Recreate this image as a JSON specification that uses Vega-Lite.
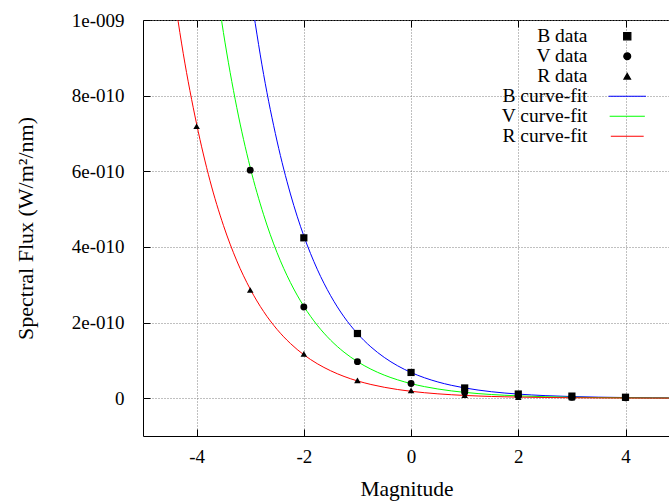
{
  "$schema": "https://vega.github.io/schema/vega-lite/v6.json",
  "width": 527,
  "height": 416,
  "autosize": {"type": "none"},
  "padding": {"left": 143, "top": 20, "right": 0, "bottom": 66},
  "background": "white",
  "config": {
    "view": {"stroke": "black", "strokeWidth": 1},
    "font": "Liberation Serif",
    "axis": {
      "labelFont": "Liberation Serif",
      "titleFont": "Liberation Serif",
      "labelColor": "black",
      "titleColor": "black",
      "titleFontWeight": "normal",
      "tickColor": "black",
      "domain": false,
      "gridColor": "#808080",
      "gridDash": [1, 2],
      "gridWidth": 1
    }
  },
  "datasets": {
    "pts": [
      {"series": "B data", "x": -2, "y": 4.24e-10},
      {"series": "B data", "x": -1, "y": 1.71e-10},
      {"series": "B data", "x": 0, "y": 6.8e-11},
      {"series": "B data", "x": 1, "y": 2.7e-11},
      {"series": "B data", "x": 2, "y": 1.1e-11},
      {"series": "B data", "x": 3, "y": 5.5e-12},
      {"series": "B data", "x": 4, "y": 2.5e-12},
      {"series": "V data", "x": -3, "y": 6.03e-10},
      {"series": "V data", "x": -2, "y": 2.41e-10},
      {"series": "V data", "x": -1, "y": 9.66e-11},
      {"series": "V data", "x": 0, "y": 3.9e-11},
      {"series": "V data", "x": 1, "y": 1.5e-11},
      {"series": "V data", "x": 2, "y": 6.2e-12},
      {"series": "V data", "x": 3, "y": 2.5e-12},
      {"series": "V data", "x": 4, "y": 1e-12},
      {"series": "R data", "x": -4, "y": 7.19e-10},
      {"series": "R data", "x": -3, "y": 2.86e-10},
      {"series": "R data", "x": -2, "y": 1.17e-10},
      {"series": "R data", "x": -1, "y": 4.7e-11},
      {"series": "R data", "x": 0, "y": 2.06e-11},
      {"series": "R data", "x": 1, "y": 8e-12},
      {"series": "R data", "x": 2, "y": 3e-12},
      {"series": "R data", "x": 3, "y": 1.2e-12},
      {"series": "R data", "x": 4, "y": 5e-13}
    ],
    "fit": [
      {"series": "B curve-fit", "x": -3.0, "y": 1.078e-9},
      {"series": "B curve-fit", "x": -2.75, "y": 8.56e-10},
      {"series": "B curve-fit", "x": -2.5, "y": 6.80e-10},
      {"series": "B curve-fit", "x": -2.25, "y": 5.40e-10},
      {"series": "B curve-fit", "x": -2.0, "y": 4.29e-10},
      {"series": "B curve-fit", "x": -1.75, "y": 3.41e-10},
      {"series": "B curve-fit", "x": -1.5, "y": 2.71e-10},
      {"series": "B curve-fit", "x": -1.25, "y": 2.15e-10},
      {"series": "B curve-fit", "x": -1.0, "y": 1.708e-10},
      {"series": "B curve-fit", "x": -0.75, "y": 1.357e-10},
      {"series": "B curve-fit", "x": -0.5, "y": 1.078e-10},
      {"series": "B curve-fit", "x": -0.25, "y": 8.56e-11},
      {"series": "B curve-fit", "x": 0, "y": 6.8e-11},
      {"series": "B curve-fit", "x": 0.25, "y": 5.40e-11},
      {"series": "B curve-fit", "x": 0.5, "y": 4.29e-11},
      {"series": "B curve-fit", "x": 0.75, "y": 3.41e-11},
      {"series": "B curve-fit", "x": 1, "y": 2.71e-11},
      {"series": "B curve-fit", "x": 1.25, "y": 2.15e-11},
      {"series": "B curve-fit", "x": 1.5, "y": 1.708e-11},
      {"series": "B curve-fit", "x": 1.75, "y": 1.357e-11},
      {"series": "B curve-fit", "x": 2, "y": 1.078e-11},
      {"series": "B curve-fit", "x": 2.5, "y": 6.8e-12},
      {"series": "B curve-fit", "x": 3, "y": 4.29e-12},
      {"series": "B curve-fit", "x": 3.5, "y": 2.71e-12},
      {"series": "B curve-fit", "x": 4, "y": 1.71e-12},
      {"series": "B curve-fit", "x": 4.5, "y": 1.08e-12},
      {"series": "B curve-fit", "x": 4.81, "y": 8.1e-13},
      {"series": "V curve-fit", "x": -3.75, "y": 1.217e-9},
      {"series": "V curve-fit", "x": -3.5, "y": 9.67e-10},
      {"series": "V curve-fit", "x": -3.25, "y": 7.68e-10},
      {"series": "V curve-fit", "x": -3.0, "y": 6.10e-10},
      {"series": "V curve-fit", "x": -2.75, "y": 4.85e-10},
      {"series": "V curve-fit", "x": -2.5, "y": 3.85e-10},
      {"series": "V curve-fit", "x": -2.25, "y": 3.058e-10},
      {"series": "V curve-fit", "x": -2.0, "y": 2.429e-10},
      {"series": "V curve-fit", "x": -1.75, "y": 1.930e-10},
      {"series": "V curve-fit", "x": -1.5, "y": 1.533e-10},
      {"series": "V curve-fit", "x": -1.25, "y": 1.217e-10},
      {"series": "V curve-fit", "x": -1.0, "y": 9.67e-11},
      {"series": "V curve-fit", "x": -0.75, "y": 7.68e-11},
      {"series": "V curve-fit", "x": -0.5, "y": 6.10e-11},
      {"series": "V curve-fit", "x": -0.25, "y": 4.85e-11},
      {"series": "V curve-fit", "x": 0, "y": 3.85e-11},
      {"series": "V curve-fit", "x": 0.25, "y": 3.058e-11},
      {"series": "V curve-fit", "x": 0.5, "y": 2.429e-11},
      {"series": "V curve-fit", "x": 0.75, "y": 1.930e-11},
      {"series": "V curve-fit", "x": 1, "y": 1.533e-11},
      {"series": "V curve-fit", "x": 1.25, "y": 1.217e-11},
      {"series": "V curve-fit", "x": 1.5, "y": 9.67e-12},
      {"series": "V curve-fit", "x": 1.75, "y": 7.68e-12},
      {"series": "V curve-fit", "x": 2, "y": 6.10e-12},
      {"series": "V curve-fit", "x": 2.5, "y": 3.85e-12},
      {"series": "V curve-fit", "x": 3, "y": 2.43e-12},
      {"series": "V curve-fit", "x": 3.5, "y": 1.53e-12},
      {"series": "V curve-fit", "x": 4, "y": 9.7e-13},
      {"series": "V curve-fit", "x": 4.5, "y": 6.1e-13},
      {"series": "V curve-fit", "x": 4.81, "y": 4.6e-13},
      {"series": "R curve-fit", "x": -4.5, "y": 1.148e-9},
      {"series": "R curve-fit", "x": -4.25, "y": 9.12e-10},
      {"series": "R curve-fit", "x": -4.0, "y": 7.25e-10},
      {"series": "R curve-fit", "x": -3.75, "y": 5.75e-10},
      {"series": "R curve-fit", "x": -3.5, "y": 4.57e-10},
      {"series": "R curve-fit", "x": -3.25, "y": 3.63e-10},
      {"series": "R curve-fit", "x": -3.0, "y": 2.885e-10},
      {"series": "R curve-fit", "x": -2.75, "y": 2.291e-10},
      {"series": "R curve-fit", "x": -2.5, "y": 1.82e-10},
      {"series": "R curve-fit", "x": -2.25, "y": 1.446e-10},
      {"series": "R curve-fit", "x": -2.0, "y": 1.148e-10},
      {"series": "R curve-fit", "x": -1.75, "y": 9.12e-11},
      {"series": "R curve-fit", "x": -1.5, "y": 7.25e-11},
      {"series": "R curve-fit", "x": -1.25, "y": 5.75e-11},
      {"series": "R curve-fit", "x": -1.0, "y": 4.57e-11},
      {"series": "R curve-fit", "x": -0.75, "y": 3.63e-11},
      {"series": "R curve-fit", "x": -0.5, "y": 2.885e-11},
      {"series": "R curve-fit", "x": -0.25, "y": 2.291e-11},
      {"series": "R curve-fit", "x": 0, "y": 1.82e-11},
      {"series": "R curve-fit", "x": 0.25, "y": 1.446e-11},
      {"series": "R curve-fit", "x": 0.5, "y": 1.148e-11},
      {"series": "R curve-fit", "x": 0.75, "y": 9.12e-12},
      {"series": "R curve-fit", "x": 1, "y": 7.25e-12},
      {"series": "R curve-fit", "x": 1.25, "y": 5.75e-12},
      {"series": "R curve-fit", "x": 1.5, "y": 4.57e-12},
      {"series": "R curve-fit", "x": 1.75, "y": 3.63e-12},
      {"series": "R curve-fit", "x": 2, "y": 2.885e-12},
      {"series": "R curve-fit", "x": 2.5, "y": 1.82e-12},
      {"series": "R curve-fit", "x": 3, "y": 1.148e-12},
      {"series": "R curve-fit", "x": 3.5, "y": 7.25e-13},
      {"series": "R curve-fit", "x": 4, "y": 4.57e-13},
      {"series": "R curve-fit", "x": 4.5, "y": 2.89e-13},
      {"series": "R curve-fit", "x": 4.81, "y": 2.2e-13}
    ]
  },
  "resolve": {"axis": {"x": "independent"}},
  "layer": [
    {
      "data": {"name": "fit"},
      "mark": {"type": "line", "clip": true, "strokeWidth": 1, "interpolate": "monotone"},
      "encoding": {
        "x": {
          "field": "x", "type": "quantitative",
          "scale": {"domain": [-5, 4.83], "nice": false, "zero": false},
          "axis": {"orient": "top", "values": [-4, -2, 0, 2, 4], "labels": false, "grid": false, "tickSize": -7, "title": null}
        },
        "y": {
          "field": "y", "type": "quantitative",
          "scale": {"domain": [-1e-10, 1e-9], "nice": false, "zero": false},
          "axis": {
            "values": [0, 2e-10, 4e-10, 6e-10, 8e-10, 1e-9],
            "labelExpr": "datum.value === 0 ? '0' : format(datum.value / pow(10, floor(log(datum.value)/LN10 + 1e-6)), 'd') + 'e-' + format(-floor(log(datum.value)/LN10 + 1e-6), '03d')",
            "labelFontSize": 19,
            "labelPadding": 26,
            "tickSize": -7,
            "grid": true,
            "title": "Spectral Flux (W/m²/nm)",
            "titleFontSize": 22,
            "titlePadding": 34
          }
        },
        "color": {
          "field": "series", "type": "nominal",
          "scale": {
            "domain": ["B data", "V data", "R data", "B curve-fit", "V curve-fit", "R curve-fit"],
            "range": ["black", "black", "black", "#0000ff", "#00ff00", "#ff0000"]
          },
          "legend": {
            "title": null,
            "orient": "none",
            "legendX": 474.5,
            "legendY": 6.5,
            "padding": 0,
            "rowPadding": -1,
            "labelAlign": "right",
            "labelOffset": -49.5,
            "labelFont": "Liberation Serif",
            "labelFontSize": 19.5,
            "labelColor": "black",
            "labelLimit": 300,
            "symbolStrokeWidth": 1.2,
            "symbolOpacity": 1,
            "encode": {
              "symbols": {
                "update": {
                  "fill": {"signal": "indexof(datum.value, 'data') >= 0 ? 'black' : 'transparent'"},
                  "stroke": {"signal": "indexof(datum.value, 'data') >= 0 ? 'transparent' : scale('color', datum.value)"}
                }
              }
            }
          }
        },
        "order": {"field": "x", "type": "quantitative"}
      }
    },
    {
      "data": {"name": "pts"},
      "mark": {"type": "point", "filled": true, "opacity": 1},
      "encoding": {
        "x": {
          "field": "x", "type": "quantitative",
          "axis": {
            "orient": "bottom",
            "values": [-4, -2, 0, 2, 4],
            "labelExpr": "'' + datum.value",
            "labelFontSize": 19,
            "labelPadding": 18,
            "tickSize": -7,
            "grid": true,
            "title": "Magnitude",
            "titleFontSize": 21.5,
            "titlePadding": 12
          }
        },
        "y": {"field": "y", "type": "quantitative"},
        "color": {"field": "series", "type": "nominal"},
        "shape": {
          "field": "series", "type": "nominal",
          "scale": {
            "domain": ["B data", "V data", "R data", "B curve-fit", "V curve-fit", "R curve-fit"],
            "range": ["square", "circle", "triangle-up", "M-6,0H6", "M-6,0H6", "M-6,0H6"]
          }
        },
        "size": {
          "field": "series", "type": "nominal",
          "scale": {
            "domain": ["B data", "V data", "R data", "B curve-fit", "V curve-fit", "R curve-fit"],
            "range": [52, 30, 30, 81, 81, 81]
          }
        }
      }
    }
  ]
}
